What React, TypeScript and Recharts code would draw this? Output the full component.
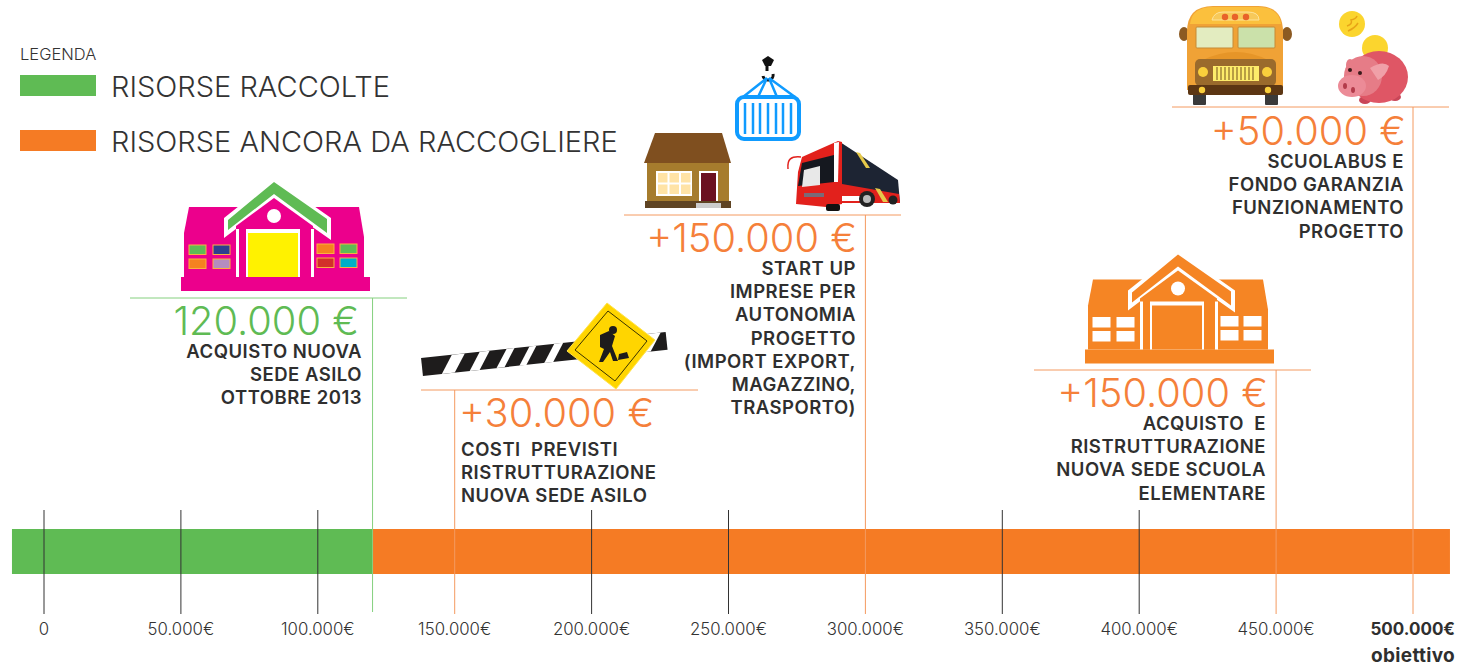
import { BarChart, Bar, XAxis, YAxis, ReferenceLine } from "recharts"

const GREEN = "#5fbb54"
const ORANGE = "#f57b24"
const RULE_ORANGE = "#f49a60"
const RULE_GREEN = "#85d07e"
const INK = "#2f2f2f"
const FONT = "Inter, sans-serif"

// axis
const tickValues = [0, 50000, 100000, 150000, 200000, 250000, 300000, 350000, 400000, 450000, 500000]
const tickLabels = ["0", "50.000€", "100.000€", "150.000€", "200.000€", "250.000€", "300.000€", "350.000€", "400.000€", "450.000€", "500.000€"]
const blackTicks = [0, 50000, 100000, 200000, 250000, 350000, 400000]

// the one bar: a bit of green runs left of zero, orange runs past the goal
const raisedBeforeZero = -11700
const raised = 120000
const remaining = 393500
const barData = [{ name: "risorse", raisedBeforeZero, raised, remaining }]

// milestones
const milestoneValues = [120000, 150000, 300000, 450000, 500000]
const milestoneAmounts = ["120.000 €", "+30.000 €", "+150.000 €", "+150.000 €", "+50.000 €"]
const milestoneTexts = [
  ["ACQUISTO NUOVA", "SEDE ASILO", "OTTOBRE 2013"],
  ["COSTI  PREVISTI", "RISTRUTTURAZIONE", "NUOVA SEDE ASILO"],
  ["START UP", "IMPRESE PER", "AUTONOMIA", "PROGETTO", "(IMPORT EXPORT,", "MAGAZZINO,", "TRASPORTO)"],
  ["ACQUISTO  E", "RISTRUTTURAZIONE", "NUOVA SEDE SCUOLA", "ELEMENTARE"],
  ["SCUOLABUS E", "FONDO GARANZIA", "FUNZIONAMENTO", "PROGETTO"],
]

const legendNames = ["RISORSE RACCOLTE", "RISORSE ANCORA DA RACCOGLIERE"]

// layout of the milestone blocks, same order as the arrays above
const blockLayout = [
  { top: 298, ruleFrom: 130, ruleTo: 407, bottom: 612, amountX: 359, amountY: 335, anchor: "end", textX: 362, textY: 358 },
  { top: 390, ruleFrom: 421, ruleTo: 698, bottom: 614, amountX: 459, amountY: 427, anchor: "start", textX: 461, textY: 456 },
  { top: 215, ruleFrom: 624, ruleTo: 901, bottom: 614, amountX: 857, amountY: 252, anchor: "end", textX: 856, textY: 275 },
  { top: 370, ruleFrom: 1034, ruleTo: 1311, bottom: 614, amountX: 1268, amountY: 407, anchor: "end", textX: 1266, textY: 430 },
  { top: 107, ruleFrom: 1172, ruleTo: 1449, bottom: 614, amountX: 1406, amountY: 145, anchor: "end", textX: 1404, textY: 168 },
]

const xPerValue = 1369 / 500000
const xDomain = [-44 / xPerValue, (1458 - 44) / xPerValue]

function AxisTick({ x, payload }: any) {
  const i = tickValues.indexOf(payload.value)
  const goal = payload.value === 500000
  return (
    <g fontFamily={FONT}>
      <text x={goal ? x + 42 : x} y={635} textAnchor={goal ? "end" : "middle"} fontSize={goal ? 17 : 16.8} fontWeight={goal ? 700 : 300} fill={goal ? INK : "#333"}>
        {tickLabels[i]}
      </text>
      {goal && (
        <text x={x + 42} y={662} textAnchor="end" fontSize={19} letterSpacing={0.3} fontWeight={700} fill={INK}>
          obiettivo
        </text>
      )}
    </g>
  )
}

function vLine(top: number, bottom: number, color: string) {
  return (props: any) => <line x1={props.x1} x2={props.x1} y1={top} y2={bottom} stroke={color} strokeWidth={1} />
}

function SchoolIcon({ dx, dy, orange }: { dx: number; dy: number; orange?: boolean }) {
  const main = orange ? "#f58524" : "#ec008c"
  const roof = orange ? "#f58524" : GREEN
  const edge = orange ? "#fff" : "#fbb040"
  const win = orange
    ? ["#fff", "#fff", "#fff", "#fff", "#fff", "#fff", "#fff", "#fff"]
    : [GREEN, "#2e3f8f", "#f58220", "#b58cc0", "#f58220", GREEN, "#d2302a", "#00aec7"]
  const winBoxes = [
    [189, 245], [213, 245], [189, 259], [213, 259],
    [317, 244], [340, 244], [317, 258], [340, 258],
  ]
  return (
    <g transform={`translate(${dx} ${dy})`}>
      <polygon points="184,277 184,233 189,207 359,207 364,237 364,277" fill={main} />
      <rect x={181} y={277} width={189} height={14} fill={main} />
      <polygon points="274,178 331,218 331,240 274,200 224,238 224,218" fill="#fff" />
      <polygon points="274,182 327,219 327,233 274,194 228,230 228,220" fill={roof} />
      <polygon points="274,198 313,226 313,277 236,277 236,226" fill={main} />
      <rect x={236} y={229} width={3} height={48} fill="#fff" />
      <rect x={311} y={229} width={3} height={48} fill="#fff" />
      <rect x={246} y={229} width={54} height={48} fill="#fff" />
      <rect x={248} y={233} width={50} height={44} fill={orange ? main : "#fff200"} />
      <circle cx={274} cy={216} r={7} fill="#fff" />
      {winBoxes.map(([x, y], i) => (
        <rect key={i} x={x} y={y} width={17} height={9.5} fill={win[i]} stroke={edge} strokeWidth={1} />
      ))}
    </g>
  )
}

function RoadBlock() {
  const stripes = [
    [25, 13], [53, 10], [80, 8], [103, 7], [128, 9], [221, 14],
  ]
  return (
    <g>
      <g transform="translate(422 367) rotate(-6.1)">
        <rect x={0} y={-9} width={246} height={18} fill="#1e1c1c" />
        {stripes.map(([x, w], i) => (
          <polygon key={i} points={`${x + 6},-9 ${x + 6 + w},-9 ${x + w - 6},9 ${x - 6},9`} fill="#fff" />
        ))}
      </g>
      <polygon points="607,303 655,340 616,389 567,351" fill="#ffd500" stroke="#ffe34d" strokeWidth={1} />
      <polygon points="608,311 647,341 615,381 575,350" fill="none" stroke="#3a3300" strokeWidth={1} />
      <circle cx={613} cy={330} r={4} fill="#1e1c1c" />
      <path d="M609 331 L600 335 L600 347 L604 349 L599 362 L603 362 L610 352 L613 361 L618 361 L612 346 L615 336 Z" fill="#1e1c1c" />
      <path d="M619 354 L627 352 L629 358 L618 360 Z" fill="#1e1c1c" />
    </g>
  )
}

function CargoIcons() {
  const blue = "#0f9bff"
  const bars = [745, 753, 760, 768, 776, 783, 791]
  return (
    <g>
      {/* container */}
      <path d="M762 60 L768 56 L774 60 L771 66 L765 66 Z" fill="#111" />
      <path d="M767 66 L767 71 M773 74 A5 5 0 0 1 763 76" stroke="#111" strokeWidth={3} fill="none" />
      <path d="M767 78 L743 97 M767 78 L758 97 M769 78 L777 97 M769 78 L795 97" stroke={blue} strokeWidth={2.5} fill="none" />
      <rect x={737} y={97} width={62} height={42} rx={7} fill="#fff" stroke={blue} strokeWidth={4} />
      {bars.map((x) => (
        <line key={x} x1={x} x2={x} y1={103} y2={134} stroke={blue} strokeWidth={2.5} />
      ))}
      {/* house */}
      <polygon points="655,133 722,133 731,163 644,163" fill="#7f4f1f" />
      <rect x={647} y={163} width={82} height={38} fill="#a67c2d" />
      <rect x={645} y={201} width={86} height={7} fill="#5f4423" />
      <rect x={656} y={171} width={36} height={25} fill="#fff" />
      {[658, 669.5, 681].map((x) =>
        [173, 184.5].map((y) => <rect key={`${x}-${y}`} x={x} y={y} width={9.5} height={9.5} fill="#ffe3a6" />)
      )}
      <rect x={699} y={171} width={19} height={30} fill="#fff" />
      <rect x={701} y={173} width={15} height={28} fill="#6b1020" />
      <rect x={696} y={203} width={25} height={5} fill="#ccc" />
      {/* city bus */}
      <polygon points="840,142 898,180 900,203 840,200" fill="#1d2433" />
      <polygon points="842,184 899,194 900,203 868,203 842,203" fill="#e2211c" />
      <polygon points="860,153 870,168 866,168 856,152" fill="#e6c94a" />
      <polygon points="875,188 880,189 888,202 883,202" fill="#e6c94a" />
      <polygon points="796,204 798,172 802,157 838,141 842,142 842,204 826,207" fill="#e2211c" />
      <polygon points="802,163 834,155 834,182 798,186" fill="#15181f" />
      <polygon points="804,170 820,166 820,185 802,187" fill="#e8e8e8" />
      <polygon points="834,143 839,142 838,182 834,182" fill="#fff" />
      <rect x={804} y={193} width={20} height={4} fill="#7a6a78" />
      <rect x={842} y={196} width={19} height={5} fill="#fff" />
      <path d="M788 169 C787 159 791 156 801 157" stroke="#e2211c" strokeWidth={1.5} fill="none" />
      <circle cx={867} cy={199} r={8} fill="#222" />
      <circle cx={867} cy={199} r={4} fill="#bbb" />
      <circle cx={893} cy={200} r={4.5} fill="#222" />
      <rect x={826} y={204} width={14} height={7} rx={2} fill="#111" />
    </g>
  )
}

function SchoolBusAndPig() {
  return (
    <g transform="translate(-2 0)">
      {/* school bus */}
      <path d="M1190 32 H1184 M1285 32 H1291" stroke="#5b3a14" strokeWidth={1.5} />
      <ellipse cx={1186} cy={34} rx={5} ry={7} fill="#8c5a22" />
      <ellipse cx={1289} cy={34} rx={5} ry={7} fill="#8c5a22" />
      <rect x={1195} y={92} width={13} height={13} rx={1} fill="#3a3a3a" />
      <rect x={1267} y={92} width={13} height={13} rx={1} fill="#3a3a3a" />
      <path d="M1189 90 V32 Q1189 6 1215 6 H1260 Q1285 6 1285 32 V90 Z" fill="#f0a236" />
      <path d="M1192 24 Q1194 7 1215 7 H1260 Q1281 7 1283 24 Z" fill="#fbc03d" />
      <rect x={1198} y={27} width={37} height={21} rx={1} fill="#e3ecc0" stroke="#c58a36" />
      <rect x={1240} y={27} width={37} height={21} rx={1} fill="#cbe1aa" stroke="#c58a36" />
      <path d="M1214 20 Q1216 12 1225 12 H1250 Q1261 12 1261 20 Z" fill="#f7c95a" stroke="#fde39a" />
      {[1227, 1237, 1248].map((x) => (
        <circle key={x} cx={x} cy={17} r={3.2} fill="#e8622a" />
      ))}
      <path d="M1205 60 Q1238 44 1270 60 Z" fill="#e69528" />
      <rect x={1197} y={59} width={81} height={27} rx={5} fill="#9a6a2c" />
      <rect x={1215} y={66} width={46} height={15} fill="#fdec6a" />
      {[1219, 1223, 1227, 1231, 1235, 1239, 1243, 1247, 1251, 1255].map((x) => (
        <line key={x} x1={x} x2={x} y1={67} y2={80} stroke="#8a6a2a" strokeWidth={1.2} />
      ))}
      <circle cx={1205} cy={72} r={5} fill="#f9cf3c" />
      <circle cx={1269} cy={72} r={5} fill="#f9cf3c" />
      <rect x={1190} y={85} width={95} height={10} rx={2} fill="#5c3613" />
      <circle cx={1204} cy={90} r={3.2} fill="#f9cf3c" />
      <circle cx={1270} cy={90} r={3.2} fill="#f9cf3c" />
      {/* piggy bank */}
      <circle cx={1354} cy={24} r={13} fill="#fbd52e" />
      <path d="M1349 26 Q1355 24 1353 20 Q1358 19 1359 16 M1350 31 Q1357 28 1360 23" stroke="#e8a417" strokeWidth={1.5} fill="none" />
      <circle cx={1377} cy={48} r={13} fill="#fbd52e" />
      <ellipse cx={1352} cy={65} rx={4} ry={6} fill="#e67c87" />
      <ellipse cx={1367} cy={100} rx={6} ry={4} fill="#c94658" />
      <ellipse cx={1397} cy={97} rx={6} ry={4} fill="#c94658" />
      <ellipse cx={1381} cy={77} rx={29} ry={26} fill="#df5665" />
      <ellipse cx={1365} cy={76} rx={19} ry={20} fill="#e67c87" />
      <path d="M1372 68 Q1385 60 1391 66 Q1388 76 1380 80 Z" fill="#f0a0a8" />
      <ellipse cx={1354} cy={86} rx={14} ry={11} fill="#ec8b97" />
      <ellipse cx={1347} cy={86} rx={2} ry={3} fill="#b33b4a" />
      <ellipse cx={1355} cy={90} rx={2} ry={3} fill="#b33b4a" />
      <circle cx={1352} cy={70} r={2} fill="#3a1a1a" />
      <circle cx={1362} cy={73} r={2} fill="#3a1a1a" />
    </g>
  )
}

function Overlay() {
  return (
    <svg width={1458} height={668} style={{ position: "absolute", left: 0, top: 0, pointerEvents: "none" }} fontFamily={FONT}>
      {/* legend */}
      <text x={20} y={60} fontSize={16.5} fontWeight={300} fill="#333">LEGENDA</text>
      <rect x={20} y={75} width={76} height={21} fill={GREEN} />
      <rect x={20} y={130} width={76} height={21} fill={ORANGE} />
      <text x={111} y={97} fontSize={29} fontWeight={300} fill="#333">{legendNames[0]}</text>
      <text x={111} y={152} fontSize={29} fontWeight={300} fill="#333">{legendNames[1]}</text>

      <SchoolIcon dx={0} dy={0} />
      <SchoolIcon dx={904} dy={72.5} orange />
      <RoadBlock />
      <CargoIcons />
      <SchoolBusAndPig />

      {milestoneValues.map((v, i) => {
        const b = blockLayout[i]
        const color = i === 0 ? GREEN : "#f5803a"
        return (
          <g key={v}>
            <line x1={b.ruleFrom} x2={b.ruleTo} y1={b.top} y2={b.top} stroke={i === 0 ? RULE_GREEN : RULE_ORANGE} />
            <text x={b.amountX} y={b.amountY} textAnchor={b.anchor as any} fontSize={39.8} fontWeight={300} fill={color}>
              {milestoneAmounts[i]}
            </text>
            {milestoneTexts[i].map((line, k) => (
              <text key={k} x={b.textX} y={b.textY + k * 23.2} textAnchor={b.anchor as any} fontSize={18.5} letterSpacing={0.5} fontWeight={600} fill={INK} style={{ whiteSpace: "pre" }}>
                {line}
              </text>
            ))}
          </g>
        )
      })}
    </svg>
  )
}

export default function App() {
  return (
    <div style={{ position: "absolute", left: 0, top: 0, width: 1458, height: 668, background: "#fff", overflow: "hidden" }}>
      <BarChart
        width={1458}
        height={668}
        data={barData}
        layout="vertical"
        stackOffset="sign"
        barCategoryGap={0}
        margin={{ top: 529, right: 0, bottom: 64, left: 0 }}
      >
        <XAxis
          type="number"
          domain={xDomain}
          allowDataOverflow
          ticks={tickValues}
          interval={0}
          height={30}
          axisLine={false}
          tickLine={false}
          tick={<AxisTick />}
        />
        <YAxis type="category" dataKey="name" hide />
        <Bar dataKey="raisedBeforeZero" stackId="a" fill={GREEN} isAnimationActive={false} />
        <Bar dataKey="raised" stackId="a" fill={GREEN} isAnimationActive={false} />
        <Bar dataKey="remaining" stackId="a" fill={ORANGE} isAnimationActive={false} />
        {blackTicks.map((v) => (
          <ReferenceLine key={v} x={v} shape={vLine(510, 614, "#333")} />
        ))}
        {milestoneValues.map((v, i) => (
          <ReferenceLine key={v} x={v} shape={vLine(blockLayout[i].top, blockLayout[i].bottom, i === 0 ? RULE_GREEN : RULE_ORANGE)} />
        ))}
      </BarChart>
      <Overlay />
    </div>
  )
}
